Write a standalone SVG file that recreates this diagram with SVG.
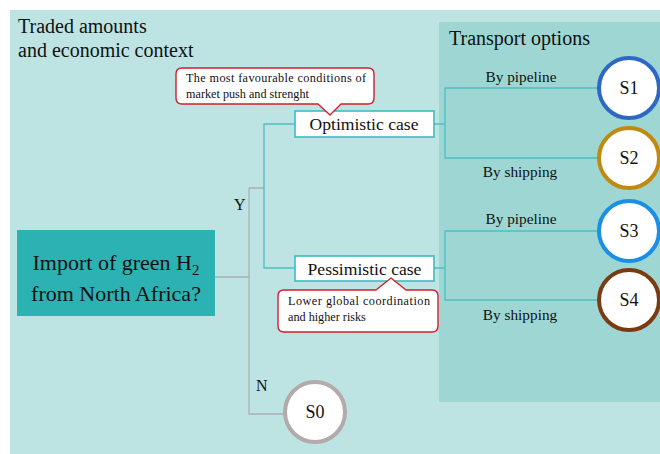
<svg xmlns="http://www.w3.org/2000/svg" width="660" height="454" viewBox="0 0 660 454">
  <defs>
    <style>
      text { font-family: "Liberation Serif", "Times New Roman", serif; fill: #111; }
      .title { font-size: 20px; }
      .case { font-size: 17.6px; text-anchor: middle; }
      .note { font-size: 12.2px; }
      .route { font-size: 15.3px; text-anchor: middle; }
      .scen { font-size: 18px; text-anchor: middle; }
      .yn { font-size: 16px; }
      .gray { fill: none; stroke: #a9b3b3; stroke-width: 1.3; }
      .teal { fill: none; stroke: #4fbfc2; stroke-width: 1.3; }
      .casebox { fill: #fff; stroke: #3fbcc0; stroke-width: 1.6; }
      .callout { fill: #fff; stroke: #d21f2a; stroke-width: 1.4; stroke-linejoin: round; }
      .node { fill: #fff; stroke-width: 4; }
    </style>
  </defs>

  <!-- background panels -->
  <rect x="0" y="0" width="660" height="454" fill="#ffffff"/>
  <rect x="10" y="10" width="650" height="444" fill="#bde3e3"/>
  <rect x="439" y="22" width="221" height="380" fill="#9ed6d4"/>

  <text class="title" x="18" y="33">Traded amounts</text>
  <text class="title" x="18" y="57">and economic context</text>
  <text class="title" x="449" y="45">Transport options</text>

  <!-- connectors -->
  <g id="connectors">
    <path class="gray" d="M215 277 H249 M249 188 V414 H285 M249 188 H264"/>
    <path class="teal" d="M295 124 H264 V268 H295"/>
    <path class="teal" d="M434 124 H445 M598 88 H445 V158 H598"/>
    <path class="teal" d="M434 268 H445 M598 231 H445 V300 H598"/>
    <text class="yn" x="234" y="210">Y</text>
    <text class="yn" x="256" y="391">N</text>
    <text class="route" x="521" y="82">By pipeline</text>
    <text class="route" x="520" y="177">By shipping</text>
    <text class="route" x="521" y="224">By pipeline</text>
    <text class="route" x="520" y="320">By shipping</text>
  </g>

  <!-- question -->
  <g id="question">
    <rect x="17" y="230" width="198" height="86" fill="#2cb2b3"/>
    <text x="116" y="270" font-size="22" text-anchor="middle">Import of green H<tspan font-size="15" dy="5">2</tspan></text>
    <text x="116" y="301" font-size="22" text-anchor="middle">from North Africa?</text>
  </g>

  <!-- cases -->
  <g id="optimistic">
    <rect class="casebox" x="295" y="111" width="139" height="26"/>
    <text class="case" x="364" y="130">Optimistic  case</text>
  </g>
  <g id="pessimistic">
    <rect class="casebox" x="295" y="256" width="139" height="25"/>
    <text class="case" x="364.5" y="275">Pessimistic  case</text>
  </g>

  <!-- callouts -->
  <g id="note-optimistic">
    <path class="callout" d="M182 68 H368 Q374 68 374 74 V98 Q374 104 368 104 H341 L330 115 L318 104 H182 Q176 104 176 98 V74 Q176 68 182 68 Z"/>
    <text class="note" x="186" y="82" textLength="180" lengthAdjust="spacing">The most favourable conditions of</text>
    <text class="note" x="186" y="98">market push and strenght</text>
  </g>
  <g id="note-pessimistic">
    <path class="callout" d="M284 290 H376 L391 278 L406 290 H432 Q438 290 438 296 V326 Q438 332 432 332 H284 Q278 332 278 326 V296 Q278 290 284 290 Z"/>
    <text class="note" x="288" y="305" textLength="142" lengthAdjust="spacing">Lower global coordination</text>
    <text class="note" x="288" y="321">and higher risks</text>
  </g>

  <!-- scenario nodes -->
  <g id="S0">
    <circle class="node" cx="315" cy="412" r="30" stroke="#b3abab"/>
    <text class="scen" x="315" y="418">S0</text>
  </g>
  <g id="S1">
    <circle class="node" cx="629" cy="88" r="30" stroke="#2d68c4"/>
    <text class="scen" x="629" y="94">S1</text>
  </g>
  <g id="S2">
    <circle class="node" cx="629" cy="158" r="30" stroke="#c0890f"/>
    <text class="scen" x="629" y="164">S2</text>
  </g>
  <g id="S3">
    <circle class="node" cx="629" cy="231" r="30" stroke="#1a8fe3"/>
    <text class="scen" x="629" y="237">S3</text>
  </g>
  <g id="S4">
    <circle class="node" cx="629" cy="300" r="30" stroke="#7b3b12"/>
    <text class="scen" x="629" y="306">S4</text>
  </g>
</svg>
